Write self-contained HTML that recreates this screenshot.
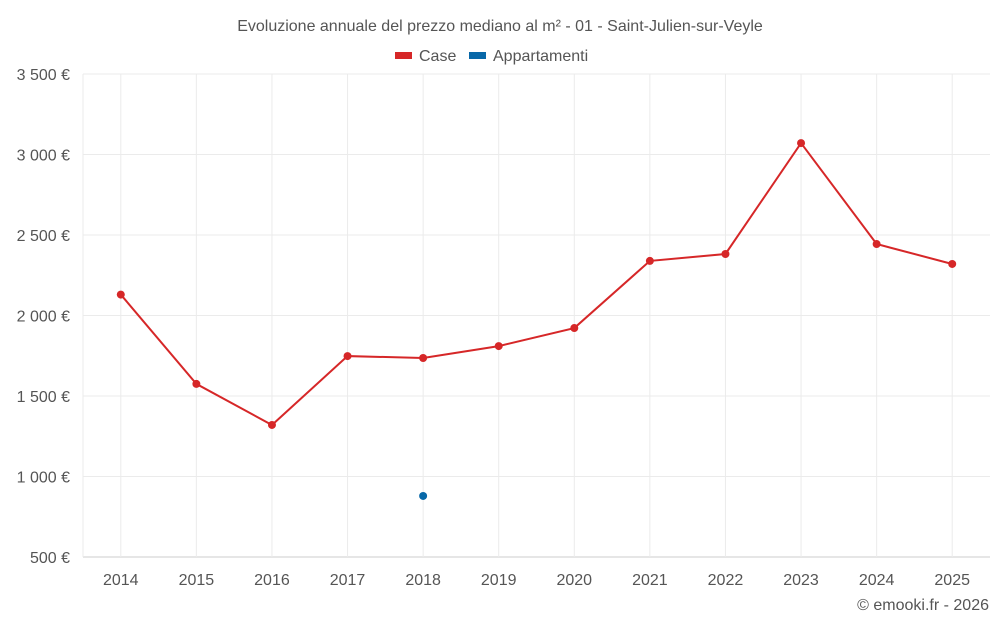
<!DOCTYPE html>
<html><head><meta charset="utf-8">
<style>
body{margin:0;background:#fff;font-family:"Liberation Sans",sans-serif;}
svg text{font-family:"Liberation Sans",sans-serif;}
</style></head>
<body>
<svg id="chart" width="1000" height="625" viewBox="0 0 1000 625" xmlns="http://www.w3.org/2000/svg">
<text x="500" y="31" text-anchor="middle" font-size="16" fill="#555">Evoluzione annuale del prezzo mediano al m² - 01 - Saint-Julien-sur-Veyle</text>
<g>
<g><rect x="395" y="52" width="17" height="7" fill="#d62728"/><text x="419" y="61" font-size="16" fill="#555">Case</text></g>
<g><rect x="469" y="52" width="17" height="7" fill="#0868a8"/><text x="493" y="61" font-size="16" fill="#555">Appartamenti</text></g>
</g>
<g id="grid"></g>
<g id="marks"></g>
<text x="989" y="610" text-anchor="end" font-size="16" fill="#555">© emooki.fr - 2026</text>
</svg>
<script>
const years=["2014","2015","2016","2017","2018","2019","2020","2021","2022","2023","2024","2025"];
const caseValues=[2130,1575,1320,1748,1736,1810,1922,2339,2382,3071,2444,2320];
const apptValues=[null,null,null,null,879,null,null,null,null,null,null,null];
const yTicks=[500,1000,1500,2000,2500,3000,3500];
const yTickLabels=["500 €","1 000 €","1 500 €","2 000 €","2 500 €","3 000 €","3 500 €"];
const L=83,R=990,T=74,B=557,NS="http://www.w3.org/2000/svg";
const bw=(R-L)/years.length;
const x=i=>L+bw*(i+0.5);
const y=v=>B-(v-500)/3000*(B-T);
const grid=document.getElementById('grid'),marks=document.getElementById('marks');
function mk(tag,attrs,parent){const e=document.createElementNS(NS,tag);for(const k in attrs)e.setAttribute(k,attrs[k]);parent.appendChild(e);return e;}
yTicks.forEach((t,i)=>{
 const l=mk('line',{x1:L,x2:R,y1:y(t),y2:y(t),stroke:i==0?'#ccc':'#ebebeb'},grid);
 
 
 const tx=mk('text',{x:70,y:y(t)+6,'text-anchor':'end','font-size':16,fill:'#555'},grid);
 tx.textContent=yTickLabels[i];
 
 
});
const l0=mk('line',{x1:L,x2:L,y1:T,y2:B,stroke:'#ebebeb'},grid);


years.forEach((yr,i)=>{
 const l=mk('line',{x1:x(i),x2:x(i),y1:T,y2:B,stroke:'#ebebeb'},grid);
 
 
 const tx=mk('text',{x:x(i),y:585,'text-anchor':'middle','font-size':16,fill:'#555'},grid);
 tx.textContent=yr;
 
 
});
const pts=caseValues.map((v,i)=>x(i)+','+y(v)).join(' ');
const pl=mk('polyline',{points:pts,fill:'none',stroke:'#d62728','stroke-width':2},marks);


caseValues.forEach((v,i)=>{
 const c=mk('circle',{cx:x(i),cy:y(v),r:4,fill:'#d62728'},marks);
 
 
});
apptValues.forEach((v,i)=>{
 if(v==null)return;
 const c=mk('circle',{cx:x(i),cy:y(v),r:4,fill:'#0868a8'},marks);
 
 
});
</script>
</body></html>
